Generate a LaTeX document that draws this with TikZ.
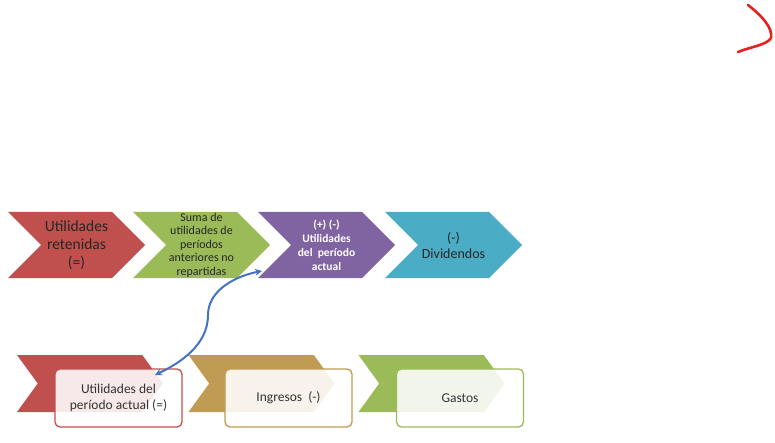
\documentclass[tikz,border=0pt]{standalone}
\usepackage{fontspec}
\setmainfont{Carlito}
\usetikzlibrary{shapes.symbols,arrows.meta}

\definecolor{accRed}{HTML}{C0504D}
\definecolor{accOlive}{HTML}{9BBB59}
\definecolor{accPurple}{HTML}{8064A2}
\definecolor{accAqua}{HTML}{4BACC6}
\definecolor{accBrown}{HTML}{BF9B53}
\definecolor{linkBlue}{HTML}{4472C4}
\definecolor{markRed}{HTML}{E3211D}

\begin{document}
\begin{tikzpicture}[x=1pt,y=-1pt,
					chevron/.style={signal, signal to=east, signal from=west,
						signal pointer angle=90, minimum width=137pt,
						minimum height=66pt, inner sep=0pt, align=center,
						text=black!85},
					low chevron/.style={signal, signal to=east, signal from=west,
						signal pointer angle=108, minimum width=146pt,
						minimum height=57pt, inner sep=0pt},
					tag box/.style={draw, rounded corners=5pt, line width=1.3pt,
						fill=white, fill opacity=0.88, text opacity=1,
						minimum width=127pt, minimum height=58pt, align=center,
						text=black!80, font=\fontsize{13.5}{15.5}\selectfont},
					link/.style={linkBlue, line width=2pt,
						{Stealth[length=7pt,width=7pt]}-{Stealth[length=7pt,width=7pt]}}]

  \useasboundingbox (0,0) rectangle (775,443);

  % top row
  \node[chevron, fill=accRed, font=\fontsize{15.5}{18}\selectfont] (ret) at (76.5,245) {Utilidades\\retenidas\\(=)};
  \node[chevron, fill=accOlive, font=\fontsize{12}{13.5}\selectfont] (sum) at (201.5,245) {Suma de\\utilidades de\\períodos\\anteriores no\\repartidas};
  \node[chevron, fill=accPurple, text=white, font=\bfseries\fontsize{11.5}{14}\selectfont] (act) at (326.5,245) {(+) (-)\\Utilidades\\del\ \ período\\actual};
  \node[chevron, fill=accAqua, font=\fontsize{14}{16}\selectfont] (div) at (453.5,245) {(-)\\Dividendos};

  % bottom row
  \node[low chevron, fill=accRed] (lowA) at (90,383.5) {};
  \node[low chevron, fill=accBrown] (lowB) at (261.5,383.5) {};
  \node[low chevron, fill=accOlive] (lowC) at (431.5,383.5) {};

  \node[tag box, draw=accRed] (per) at (118.5,398) {Utilidades del\\período actual (=)};
  \node[tag box, draw=accBrown] (ing) at (288.5,398) {Ingresos\ \ (-)};
  \node[tag box, draw=accOlive] (gas) at (460,398) {Gastos};

  % link
  \coordinate (linkLow) at (155,375);
  \coordinate (linkMid) at (208,315);
  \coordinate (linkUp) at (262,271);
  \draw[link] (linkLow) .. controls (180,363) and (208,345) .. (linkMid)
                        .. controls (208,290) and (236,276) .. (linkUp);

  % mark
  \draw[markRed, line width=2.6pt, line cap=round, line join=round]
    (748,5) .. controls (762,16) and (773,28) .. (771,38)
            .. controls (767,45) and (750,47) .. (738,52);
\end{tikzpicture}
\end{document}
